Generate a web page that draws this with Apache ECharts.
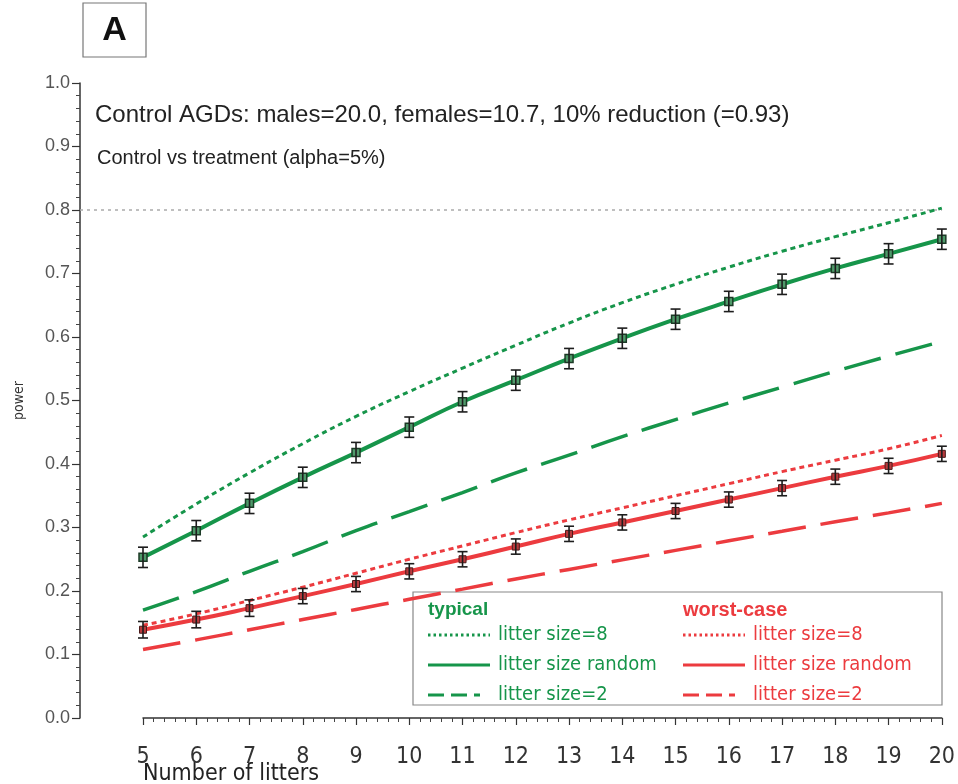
<!DOCTYPE html>
<html>
<head>
<meta charset="utf-8">
<script src="https://cdn.jsdelivr.net/npm/echarts@6/dist/echarts.min.js"></script>
<style>
  html, body { margin: 0; padding: 0; background: #fff; }
  #chart { width: 958px; height: 784px; }
</style>
</head>
<body>
<div id="chart"></div>
<script>
// number of litters (x axis)
const litters = [5, 6, 7, 8, 9, 10, 11, 12, 13, 14, 15, 16, 17, 18, 19, 20]

// typical (green)
const typicalSize8 = [0.285, 0.337, 0.386, 0.432, 0.475, 0.514, 0.551, 0.587, 0.622, 0.654, 0.683, 0.710, 0.735, 0.758, 0.780, 0.803]
const typicalRandom = [0.253, 0.295, 0.338, 0.379, 0.418, 0.458, 0.498, 0.532, 0.566, 0.598, 0.628, 0.656, 0.683, 0.708, 0.731, 0.754]
const typicalRandomErr = [0.016, 0.016, 0.016, 0.016, 0.016, 0.016, 0.016, 0.016, 0.016, 0.016, 0.016, 0.016, 0.016, 0.016, 0.016, 0.016]
const typicalSize2 = [0.170, 0.199, 0.231, 0.262, 0.295, 0.325, 0.355, 0.386, 0.414, 0.443, 0.470, 0.496, 0.521, 0.546, 0.570, 0.593]

// worst-case (red)
const worstSize8 = [0.146, 0.164, 0.185, 0.206, 0.228, 0.250, 0.271, 0.292, 0.312, 0.331, 0.350, 0.369, 0.388, 0.406, 0.424, 0.445]
const worstRandom = [0.139, 0.155, 0.173, 0.192, 0.211, 0.231, 0.250, 0.270, 0.290, 0.308, 0.326, 0.344, 0.362, 0.380, 0.397, 0.416]
const worstRandomErr = [0.013, 0.013, 0.013, 0.012, 0.012, 0.012, 0.012, 0.012, 0.012, 0.012, 0.012, 0.012, 0.012, 0.012, 0.012, 0.012]
const worstSize2 = [0.108, 0.123, 0.139, 0.155, 0.171, 0.187, 0.203, 0.219, 0.234, 0.249, 0.264, 0.279, 0.294, 0.309, 0.323, 0.338]

const yTicks = ['0.0', '0.1', '0.2', '0.3', '0.4', '0.5', '0.6', '0.7', '0.8', '0.9', '1.0']
const powerTarget = 0.8

const GREEN = '#16954a'
const RED = '#ec3b3f'
const NARROW = '"DejaVu Sans Condensed", "Liberation Sans Narrow", "Liberation Sans", sans-serif'
const SANS = '"Liberation Sans", Arial, sans-serif'

const pairs = (ys) => litters.map((x, i) => [x, ys[i]])
const errPairs = (ys, err) => litters.map((x, i) => [x, ys[i] - err[i], ys[i] + err[i]])

function renderErr(params, api) {
  const x = api.value(0)
  const top = api.coord([x, api.value(2)])
  const bot = api.coord([x, api.value(1)])
  const w = 5
  const st = { stroke: '#1d1d1d', lineWidth: 1.6 }
  return {
    type: 'group',
    children: [
      { type: 'line', shape: { x1: top[0], y1: top[1], x2: bot[0], y2: bot[1] }, style: st },
      { type: 'line', shape: { x1: top[0] - w, y1: top[1], x2: top[0] + w, y2: top[1] }, style: st },
      { type: 'line', shape: { x1: bot[0] - w, y1: bot[1], x2: bot[0] + w, y2: bot[1] }, style: st }
    ]
  }
}

function lineSeries(name, ys, color, type, width) {
  return {
    name: name,
    type: 'line',
    data: pairs(ys),
    smooth: true,
    showSymbol: false,
    lineStyle: { color: color, width: width, type: type, cap: 'butt' },
    z: 2
  }
}

// legend drawn as graphic (two groups with headers)
function legendRow(x, y, color, dash, label) {
  return [
    { type: 'line', shape: { x1: x, y1: y, x2: x + 62, y2: y }, style: { stroke: color, lineWidth: 3, lineDash: dash } },
    { type: 'text', x: x + 70, y: y, style: { text: label, fill: color, font: '20px ' + NARROW, textVerticalAlign: 'middle' } }
  ]
}

const myChart = echarts.init(document.getElementById('chart'))

const option = {
  backgroundColor: '#fff',
  animation: false,
  grid: { left: 143, right: 16, top: 83, bottom: 66 },
  xAxis: {
    type: 'value',
    min: 5,
    max: 20,
    interval: 1,
    offset: 22,
    axisLine: { lineStyle: { color: '#333', width: 1.5 } },
    axisTick: { length: 7, lineStyle: { color: '#333', width: 1.2 } },
    minorTick: { show: true, splitNumber: 5, length: 4, lineStyle: { color: '#444' } },
    splitLine: { show: false },
    axisLabel: { color: '#333', fontFamily: NARROW, fontSize: 23, margin: 6 }
  },
  yAxis: {
    type: 'value',
    min: 0,
    max: 1,
    interval: 0.1,
    offset: 63,
    name: 'power',
    nameLocation: 'middle',
    nameGap: 54,
    nameTextStyle: { color: '#333', fontFamily: NARROW, fontSize: 14 },
    axisLine: { show: true, lineStyle: { color: '#333', width: 1.5 } },
    axisTick: { show: true, length: 8, lineStyle: { color: '#333', width: 1.2 } },
    minorTick: { show: true, splitNumber: 5, length: 4, lineStyle: { color: '#444' } },
    splitLine: { show: false },
    axisLabel: {
      color: '#555', fontFamily: SANS, fontSize: 18, margin: 10,
      formatter: (v) => yTicks[Math.round(v * 10)]
    }
  },
  series: [
    lineSeries('typical litter size=8', typicalSize8, GREEN, [5, 4], 3),
    lineSeries('typical litter size=2', typicalSize2, GREEN, [38, 15], 3.5),
    lineSeries('worst-case litter size=8', worstSize8, RED, [5, 4], 3),
    lineSeries('worst-case litter size=2', worstSize2, RED, [38, 15], 3.5),
    {
      name: 'typical litter size random',
      type: 'line',
      data: pairs(typicalRandom),
      smooth: true,
      symbol: 'rect',
      symbolSize: 8,
      lineStyle: { color: GREEN, width: 4 },
      itemStyle: { color: '#4f9a6a', borderColor: '#1c3a26', borderWidth: 1.5 },
      z: 3
    },
    {
      name: 'worst-case litter size random',
      type: 'line',
      data: pairs(worstRandom),
      smooth: true,
      symbol: 'rect',
      symbolSize: 7,
      lineStyle: { color: RED, width: 4 },
      itemStyle: { color: '#b8393c', borderColor: '#4a1a1a', borderWidth: 1 },
      z: 3
    },
    { type: 'custom', renderItem: renderErr, data: errPairs(typicalRandom, typicalRandomErr), z: 4 },
    { type: 'custom', renderItem: renderErr, data: errPairs(worstRandom, worstRandomErr), z: 4 }
  ],
  graphic: [
    // panel label
    { type: 'rect', shape: { x: 83, y: 3, width: 63, height: 54 }, style: { fill: '#fff', stroke: '#777', lineWidth: 1.2 } },
    { type: 'text', x: 114.5, y: 31, style: { text: 'A', font: 'bold 34px ' + SANS, fill: '#111', textAlign: 'center', textVerticalAlign: 'middle' } },
    // annotations
    { type: 'text', x: 95, y: 115, style: { text: 'Control AGDs: males=20.0, females=10.7, 10% reduction (=0.93)', font: '24px ' + SANS, fill: '#222', textVerticalAlign: 'middle' } },
    { type: 'text', x: 97, y: 158, style: { text: 'Control vs treatment (alpha=5%)', font: '20px ' + SANS, fill: '#222', textVerticalAlign: 'middle' } },
    { type: 'text', x: 143, y: 774, style: { text: 'Number of litters', font: '23px ' + NARROW, fill: '#222', textVerticalAlign: 'middle' } },
    // legend box
    {
      type: 'group',
      z: 10,
      children: [
        { type: 'rect', shape: { x: 413, y: 592, width: 529, height: 113 }, style: { fill: '#fff', stroke: '#888', lineWidth: 1.2 } },
        { type: 'text', x: 428, y: 610, style: { text: 'typical', font: 'bold 19px ' + SANS, fill: GREEN, textVerticalAlign: 'middle' } },
        { type: 'text', x: 683, y: 610, style: { text: 'worst-case', font: 'bold 20px ' + SANS, fill: RED, textVerticalAlign: 'middle' } }
      ]
        .concat(legendRow(428, 635, GREEN, [2.5, 3], 'litter size=8'))
        .concat(legendRow(428, 665, GREEN, null, 'litter size random'))
        .concat(legendRow(428, 695, GREEN, [16, 7, 16, 7, 6, 100], 'litter size=2'))
        .concat(legendRow(683, 635, RED, [2.5, 3], 'litter size=8'))
        .concat(legendRow(683, 665, RED, null, 'litter size random'))
        .concat(legendRow(683, 695, RED, [16, 7, 16, 7, 6, 100], 'litter size=2'))
    }
  ]
}

myChart.setOption(option)

// dotted 0.8 reference line, from the y axis line to the right end of the plot
const y08 = myChart.convertToPixel({ gridIndex: 0 }, [20, powerTarget])
myChart.setOption({
  graphic: option.graphic.concat([
    { type: 'line', z: 1, shape: { x1: 80, y1: y08[1], x2: y08[0], y2: y08[1] }, style: { stroke: '#aaa', lineWidth: 1.5, lineDash: [3, 4] } }
  ])
})
</script>
</body>
</html>
